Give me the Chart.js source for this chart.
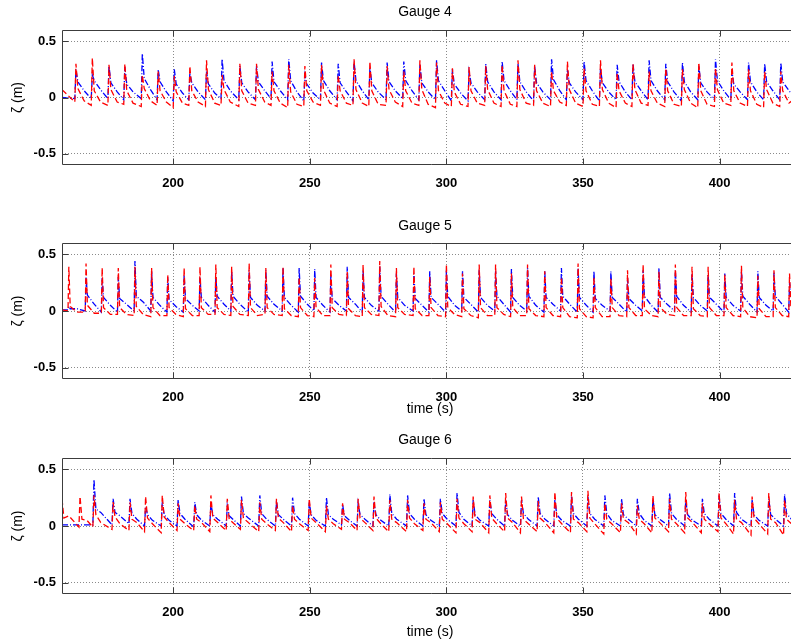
<!DOCTYPE html>
<html><head><meta charset="utf-8">
<script src="https://cdn.jsdelivr.net/npm/chart.js@4.4.1/dist/chart.umd.min.js"></script>
<style>
html,body{margin:0;padding:0;background:#fff;overflow:hidden;width:791px;height:644px;}
canvas{position:absolute;left:0;}
</style></head><body>
<canvas id="c4" width="800" height="200" style="top:0px"></canvas>
<canvas id="c5" width="800" height="214" style="top:214px"></canvas>
<canvas id="c6" width="800" height="216" style="top:428px"></canvas>
<script>
// ---------- tick labels ----------
const xTicks = [200, 250, 300, 350, 400];
const yTicks = [-0.5, 0, 0.5];

// ---------- Gauge 4 ----------
const g4Time = [159.3,
164.0,164.4,165.1,167.4, 170.0,170.4,171.1,173.4, 176.1,176.5,177.2,179.5, 181.9,182.3,183.0,185.3, 188.3,188.7,189.4,191.7,
194.1,194.5,195.2,197.5, 200.0,200.4,201.1,203.4, 205.7,206.1,206.8,209.1, 211.8,212.2,212.9,215.2, 217.5,217.9,218.6,220.9,
224.0,224.4,225.1,227.4, 230.1,230.5,231.2,233.5, 235.8,236.2,236.9,239.2, 241.9,242.3,243.0,245.3, 247.8,248.2,248.9,251.2,
253.9,254.3,255.0,257.3, 260.0,260.4,261.1,263.4, 265.8,266.2,266.9,269.2, 271.6,272.0,272.7,275.0, 277.9,278.3,279.0,281.3,
284.0,284.4,285.1,287.4, 289.9,290.3,291.0,293.3, 296.0,296.4,297.1,299.4, 301.8,302.2,302.9,305.2, 307.9,308.3,309.0,311.3,
314.0,314.4,315.1,317.4, 320.0,320.4,321.1,323.4, 325.8,326.2,326.9,329.2, 331.9,332.3,333.0,335.3, 338.1,338.5,339.2,341.5,
343.9,344.3,345.0,347.3, 350.0,350.4,351.1,353.4, 356.0,356.4,357.1,359.4, 362.1,362.5,363.2,365.5, 367.9,368.3,369.0,371.3,
373.8,374.2,374.9,377.2, 379.9,380.3,381.0,383.3, 386.0,386.4,387.1,389.4, 392.0,392.4,393.1,395.4, 398.1,398.5,399.2,401.5,
404.1,404.5,405.2,407.5, 410.2,410.6,411.3,413.6, 416.1,416.5,417.2,419.5, 422.0,422.4,423.1,425.4,
426.5];
const g4Blue = [0.00,
-0.01,0.25,0.14,0.06, -0.01,0.20,0.15,0.07, -0.01,0.28,0.13,0.05, -0.02,0.27,0.12,0.05, -0.01,0.39,0.17,0.07,
-0.02,0.25,0.14,0.05, -0.03,0.25,0.12,0.04, -0.02,0.22,0.13,0.05, -0.02,0.23,0.12,0.04, -0.01,0.34,0.15,0.06,
-0.02,0.28,0.13,0.05, -0.02,0.28,0.14,0.06, -0.01,0.32,0.14,0.06, -0.02,0.34,0.15,0.05, -0.03,0.20,0.12,0.04,
-0.02,0.31,0.15,0.06, -0.02,0.30,0.13,0.05, -0.03,0.32,0.15,0.06, -0.02,0.26,0.13,0.05, -0.02,0.31,0.14,0.06,
-0.01,0.32,0.15,0.06, -0.02,0.29,0.13,0.05, -0.02,0.33,0.15,0.06, -0.03,0.25,0.12,0.04, -0.03,0.23,0.13,0.05,
-0.02,0.30,0.14,0.05, -0.02,0.32,0.15,0.06, -0.02,0.30,0.14,0.05, -0.03,0.28,0.13,0.05, -0.02,0.34,0.16,0.06,
-0.02,0.25,0.13,0.05, -0.02,0.32,0.15,0.06, -0.03,0.26,0.13,0.05, -0.02,0.29,0.14,0.05, -0.02,0.30,0.14,0.06,
-0.02,0.33,0.15,0.06, -0.02,0.30,0.14,0.05, -0.03,0.31,0.14,0.05, -0.02,0.28,0.13,0.05, -0.02,0.34,0.15,0.06,
-0.02,0.23,0.12,0.05, -0.02,0.31,0.14,0.05, -0.02,0.30,0.14,0.06, -0.02,0.31,0.14,0.06,
0.03];
const g4Red = [0.07,
-0.04,0.30,0.08,-0.03, -0.07,0.35,0.06,-0.04, -0.07,0.29,0.07,-0.04, -0.06,0.30,0.06,-0.05, -0.08,0.20,0.08,-0.03,
-0.07,0.23,0.06,-0.04, -0.09,0.19,0.05,-0.05, -0.07,0.28,0.06,-0.04, -0.08,0.33,0.07,-0.05, -0.07,0.20,0.07,-0.04,
-0.08,0.30,0.06,-0.05, -0.07,0.30,0.07,-0.04, -0.07,0.23,0.06,-0.05, -0.09,0.29,0.05,-0.06, -0.08,0.28,0.06,-0.04,
-0.07,0.29,0.07,-0.05, -0.08,0.20,0.06,-0.05, -0.07,0.34,0.07,-0.05, -0.08,0.32,0.06,-0.06, -0.07,0.28,0.07,-0.04,
-0.08,0.23,0.06,-0.05, -0.07,0.33,0.07,-0.06, -0.09,0.31,0.06,-0.05, -0.08,0.26,0.05,-0.06, -0.08,0.27,0.06,-0.05,
-0.07,0.28,0.07,-0.05, -0.08,0.29,0.06,-0.06, -0.08,0.33,0.07,-0.05, -0.07,0.29,0.06,-0.05, -0.08,0.23,0.06,-0.04,
-0.07,0.32,0.07,-0.05, -0.08,0.26,0.06,-0.06, -0.08,0.33,0.07,-0.05, -0.09,0.22,0.06,-0.05, -0.08,0.30,0.07,-0.05,
-0.07,0.23,0.06,-0.05, -0.08,0.26,0.06,-0.06, -0.08,0.25,0.07,-0.05, -0.09,0.31,0.06,-0.06, -0.08,0.26,0.07,-0.05,
-0.07,0.31,0.06,-0.05, -0.08,0.25,0.06,-0.06, -0.09,0.23,0.07,-0.05, -0.08,0.23,0.06,-0.05,
-0.03];

// ---------- Gauge 5 ----------
const g5Time = [159.3,
161.5,161.8,162.3,164.8, 167.8,168.1,168.6,171.1, 173.7,174.0,174.5,177.0, 179.6,179.9,180.4,182.9, 185.7,186.0,186.5,189.0,
191.8,192.1,192.6,195.1, 197.7,198.0,198.5,201.0, 203.7,204.0,204.5,207.0, 209.5,209.8,210.3,212.8, 215.3,215.6,216.1,218.6,
221.1,221.4,221.9,224.4, 227.5,227.8,228.3,230.8, 233.6,233.9,234.4,236.9, 239.9,240.2,240.7,243.2, 245.8,246.1,246.6,249.1,
251.5,251.8,252.3,254.8, 257.4,257.7,258.2,260.7, 263.4,263.7,264.2,266.7, 269.2,269.5,270.0,272.5, 275.3,275.6,276.1,278.6,
281.4,281.7,282.2,284.7, 287.8,288.1,288.6,291.1, 293.6,293.9,294.4,296.9, 299.7,300.0,300.5,303.0, 305.6,305.9,306.4,308.9,
311.7,312.0,312.5,315.0, 317.7,318.0,318.5,321.0, 323.5,323.8,324.3,326.8, 329.4,329.7,330.2,332.7, 335.7,336.0,336.5,339.0,
341.8,342.1,342.6,345.1, 347.9,348.2,348.7,351.2, 353.7,354.0,354.5,357.0, 359.9,360.2,360.7,363.2, 366.0,366.3,366.8,369.3,
371.7,372.0,372.5,375.0, 377.5,377.8,378.3,380.8, 383.5,383.8,384.3,386.8, 389.6,389.9,390.4,392.9, 395.5,395.8,396.3,398.8,
401.6,401.9,402.4,404.9, 407.7,408.0,408.5,411.0, 413.7,414.0,414.5,417.0, 419.6,419.9,420.4,422.9, 425.3,425.6,426.1,428.6];
const g5Blue = [0.01,
0.01,0.04,0.02,0.02, 0.00,0.30,0.14,0.06, -0.01,0.29,0.12,0.05, -0.01,0.30,0.11,0.06, 0.00,0.44,0.13,0.08,
0.00,0.35,0.12,0.05, -0.01,0.30,0.10,0.04, -0.01,0.32,0.11,0.05, 0.00,0.30,0.12,0.05, -0.01,0.30,0.13,0.06,
0.00,0.35,0.13,0.06, -0.01,0.36,0.12,0.05, 0.00,0.36,0.13,0.06, 0.00,0.38,0.12,0.05, -0.01,0.38,0.13,0.06,
0.00,0.37,0.12,0.05, -0.01,0.32,0.11,0.05, 0.00,0.39,0.12,0.06, -0.01,0.36,0.12,0.05, 0.00,0.39,0.13,0.06,
-0.01,0.33,0.12,0.05, 0.00,0.33,0.11,0.05, -0.01,0.35,0.12,0.06, -0.01,0.36,0.13,0.05, 0.00,0.35,0.12,0.06,
-0.01,0.36,0.12,0.05, 0.00,0.35,0.13,0.06, -0.01,0.37,0.12,0.05, 0.00,0.38,0.13,0.05, -0.01,0.35,0.12,0.06,
0.00,0.38,0.13,0.06, -0.01,0.38,0.12,0.05, -0.01,0.35,0.11,0.05, 0.00,0.35,0.12,0.06, -0.01,0.29,0.11,0.05,
0.00,0.36,0.13,0.05, -0.01,0.38,0.12,0.06, 0.00,0.36,0.13,0.05, -0.01,0.33,0.12,0.05, 0.00,0.32,0.12,0.06,
-0.01,0.33,0.12,0.05, 0.00,0.35,0.13,0.06, -0.01,0.35,0.12,0.05, 0.00,0.34,0.13,0.06, -0.01,0.25,0.13,0.06];
const g5Red = [0.01,
0.00,0.39,0.04,-0.01, -0.01,0.42,0.05,-0.02, -0.02,0.38,0.03,-0.03, -0.03,0.38,0.03,-0.03, -0.04,0.39,0.04,-0.03,
-0.05,0.38,0.03,-0.04, -0.04,0.32,0.03,-0.03, -0.05,0.38,0.02,-0.04, -0.04,0.39,0.03,-0.03, -0.03,0.41,0.03,-0.03,
-0.04,0.39,0.04,-0.03, -0.04,0.42,0.03,-0.04, -0.03,0.38,0.03,-0.03, -0.04,0.39,0.02,-0.04, -0.05,0.30,0.03,-0.04,
-0.05,0.29,0.03,-0.04, -0.04,0.41,0.03,-0.03, -0.04,0.35,0.02,-0.04, -0.05,0.41,0.03,-0.03, -0.04,0.44,0.04,-0.04,
-0.05,0.38,0.03,-0.03, -0.04,0.39,0.02,-0.04, -0.04,0.30,0.03,-0.04, -0.05,0.41,0.03,-0.03, -0.05,0.33,0.02,-0.04,
-0.06,0.41,0.03,-0.04, -0.04,0.41,0.03,-0.03, -0.05,0.33,0.03,-0.04, -0.04,0.41,0.02,-0.04, -0.05,0.35,0.03,-0.04,
-0.05,0.30,0.03,-0.05, -0.06,0.42,0.02,-0.05, -0.06,0.30,0.03,-0.05, -0.05,0.29,0.03,-0.04, -0.05,0.36,0.03,-0.04,
-0.04,0.41,0.02,-0.04, -0.05,0.35,0.03,-0.03, -0.04,0.41,0.03,-0.04, -0.04,0.39,0.02,-0.04, -0.05,0.39,0.03,-0.04,
-0.04,0.32,0.03,-0.04, -0.05,0.40,0.03,-0.05, -0.06,0.31,0.02,-0.05, -0.05,0.36,0.03,-0.04, -0.05,0.33,0.03,-0.04];

// ---------- Gauge 6 ----------
const g6Time = [159.3,160.0,161.8,
165.5,165.9,166.6,168.4, 170.6,171.0,171.7,173.5,
177.6,178.0,178.7,180.5, 183.8,184.2,184.9,186.7, 189.5,189.9,190.6,192.4, 195.6,196.0,196.7,198.5, 201.4,201.8,202.5,204.3,
207.5,207.9,208.6,210.4, 213.4,213.8,214.5,216.3, 219.4,219.8,220.5,222.3, 224.6,225.0,225.7,227.5, 231.3,231.7,232.4,234.2,
237.4,237.8,238.5,240.3, 243.3,243.7,244.4,246.2, 249.4,249.8,250.5,252.3, 255.7,256.1,256.8,258.6, 261.6,262.0,262.7,264.5,
267.3,267.7,268.4,270.2, 273.1,273.5,274.2,276.0, 278.9,279.3,280.0,281.8, 285.4,285.8,286.5,288.3, 291.4,291.8,292.5,294.3,
297.4,297.8,298.5,300.3, 303.5,303.9,304.6,306.4, 309.4,309.8,310.5,312.3, 315.5,315.9,316.6,318.4, 321.3,321.7,322.4,324.2,
327.1,327.5,328.2,330.0, 333.2,333.6,334.3,336.1, 339.3,339.7,340.4,342.2, 345.4,345.8,346.5,348.3, 351.4,351.8,352.5,354.3,
357.6,358.0,358.7,360.5, 363.7,364.1,364.8,366.6, 369.5,369.9,370.6,372.4, 375.2,375.6,376.3,378.1, 381.3,381.7,382.4,384.2,
387.2,387.6,388.3,390.1, 393.3,393.7,394.4,396.2, 399.4,399.8,400.5,402.3, 405.1,405.5,406.2,408.0, 411.5,411.9,412.6,414.4,
417.6,418.0,418.7,420.5, 423.4,423.8,424.5,426.3];
const g6Blue = [0.01,0.01,0.01,
0.01,0.01,0.01,0.01, 0.01,0.41,0.15,0.12,
0.01,0.24,0.12,0.09, 0.02,0.24,0.11,0.06, 0.00,0.17,0.10,0.05, 0.00,0.21,0.10,0.05, 0.00,0.23,0.11,0.06,
-0.01,0.21,0.10,0.05, 0.00,0.20,0.10,0.06, 0.00,0.18,0.09,0.05, 0.00,0.26,0.11,0.07, 0.00,0.27,0.11,0.06,
0.00,0.22,0.10,0.06, 0.00,0.25,0.11,0.06, 0.00,0.21,0.10,0.05, 0.00,0.25,0.10,0.06, 0.01,0.19,0.09,0.05,
0.00,0.20,0.10,0.06, 0.00,0.21,0.10,0.05, 0.00,0.28,0.11,0.06, 0.00,0.27,0.11,0.06, 0.00,0.24,0.10,0.05,
0.00,0.24,0.11,0.06, 0.00,0.29,0.12,0.06, 0.00,0.23,0.10,0.05, 0.00,0.23,0.11,0.06, 0.00,0.23,0.10,0.05,
0.00,0.23,0.11,0.06, 0.00,0.26,0.11,0.06, 0.00,0.23,0.10,0.05, 0.00,0.26,0.11,0.06, 0.00,0.26,0.11,0.06,
0.00,0.27,0.11,0.05, 0.00,0.24,0.10,0.06, 0.00,0.24,0.11,0.05, 0.00,0.24,0.10,0.06, 0.00,0.29,0.11,0.06,
0.00,0.23,0.10,0.05, 0.00,0.24,0.11,0.06, 0.00,0.27,0.11,0.06, 0.00,0.29,0.12,0.06, 0.00,0.23,0.10,0.05,
0.00,0.24,0.10,0.06, 0.00,0.28,0.11,0.06];
const g6Red = [0.24,0.07,0.09,
-0.01,0.26,0.06,0.05, -0.01,0.27,0.10,0.03,
-0.03,0.21,0.08,0.02, -0.04,0.21,0.06,0.03, -0.05,0.26,0.07,0.02, -0.06,0.27,0.08,0.03, -0.04,0.20,0.06,0.02,
-0.04,0.18,0.06,0.03, -0.05,0.27,0.07,0.03, -0.04,0.24,0.06,0.02, -0.03,0.23,0.07,0.03, -0.05,0.21,0.06,0.02,
-0.04,0.24,0.07,0.03, -0.05,0.18,0.06,0.02, -0.04,0.24,0.07,0.03, -0.05,0.18,0.06,0.02, -0.03,0.20,0.06,0.03,
-0.04,0.24,0.07,0.03, -0.04,0.26,0.07,0.02, -0.05,0.23,0.06,0.03, -0.05,0.23,0.07,0.02, -0.04,0.20,0.06,0.03,
-0.05,0.21,0.06,0.02, -0.06,0.24,0.07,0.02, -0.05,0.26,0.06,0.03, -0.06,0.27,0.07,0.02, -0.05,0.29,0.07,0.03,
-0.06,0.26,0.06,0.02, -0.05,0.22,0.07,0.03, -0.06,0.30,0.07,0.02, -0.06,0.30,0.06,0.03, -0.05,0.31,0.07,0.02,
-0.07,0.20,0.06,0.02, -0.06,0.20,0.06,0.03, -0.07,0.18,0.06,0.02, -0.06,0.27,0.07,0.03, -0.05,0.24,0.06,0.02,
-0.06,0.30,0.07,0.03, -0.06,0.20,0.06,0.02, -0.05,0.29,0.07,0.02, -0.07,0.23,0.06,0.03, -0.08,0.26,0.07,0.02,
-0.07,0.29,0.06,0.03, -0.08,0.23,0.06,0.02];

// ---------- drawing ----------
const FONT = '"Liberation Sans", Arial, Helvetica, sans-serif';
function pts(t, v) { const n = Math.min(t.length, v.length); const o = []; for (let i = 0; i < n; i++) o.push({x: t[i], y: v[i]}); return o; }

const deco = {
  id: 'deco',
  afterDraw(chart, args, o) {
    const {ctx, chartArea: a, scales: {x, y}} = chart;
    ctx.save();
    ctx.strokeStyle = '#3c3c3c'; ctx.lineWidth = 1;
    ctx.beginPath();
    const L = a.left + 0.5, T = a.top + 0.5, B = a.bottom - 0.5, R = a.right + 10;
    ctx.moveTo(R, T); ctx.lineTo(L, T); ctx.lineTo(L, B); ctx.lineTo(R, B);
    x.ticks.forEach(t => {
      const px = Math.round(x.getPixelForValue(t.value)) + 0.5;
      ctx.moveTo(px, T); ctx.lineTo(px, T + 6);
      ctx.moveTo(px, B); ctx.lineTo(px, B - 6);
    });
    y.ticks.forEach(t => {
      const py = Math.round(y.getPixelForValue(t.value)) + 0.5;
      ctx.moveTo(L, py); ctx.lineTo(L + 6, py);
    });
    ctx.stroke();
    ctx.fillStyle = '#000';
    ctx.font = '14px ' + FONT;
    ctx.textAlign = 'center'; ctx.textBaseline = 'middle';
    ctx.fillText(o.title, o.titleX, o.titleY);
    if (o.xlabel) ctx.fillText(o.xlabel, o.xlabelX, o.xlabelY);
    ctx.translate(o.ylabelX, (a.top + a.bottom) / 2);
    ctx.rotate(-Math.PI / 2);
    ctx.fillText(o.ylabel, 0, 0);
    ctx.restore();
  }
};
Chart.register(deco);

function makeChart(id, t, blue, red, padTop, axisH, decoOpts) {
  return new Chart(document.getElementById(id), {
    type: 'line',
    data: {
      datasets: [
        { label: 'red', data: pts(t, red), borderColor: '#ff0000', borderWidth: 1.3, borderDash: [6, 3], pointRadius: 0, tension: 0, fill: false },
        { label: 'blue', data: pts(t, blue), borderColor: '#0000ff', borderWidth: 1.3, borderDash: [6, 2, 1, 2], pointRadius: 0, tension: 0, fill: false }
      ]
    },
    options: {
      responsive: false, animation: false, events: [],
      layout: { padding: { top: padTop, left: 0, right: 8, bottom: 0 } },
      plugins: { legend: { display: false }, tooltip: { enabled: false }, deco: decoOpts },
      scales: {
        x: {
          type: 'linear', min: 159.3, max: 426.5,
          afterBuildTicks: s => { s.ticks = xTicks.map(v => ({ value: v })); },
          afterFit: s => { s.height = axisH; },
          grid: { color: '#8a8a8a', lineWidth: 1, drawTicks: false },
          border: { display: false, dash: [1, 2] },
          ticks: { padding: 11, color: '#000', font: { family: FONT, size: 13, weight: 'bold' }, callback: v => String(v), maxRotation: 0 }
        },
        y: {
          type: 'linear', min: -0.6, max: 0.6,
          afterBuildTicks: s => { s.ticks = yTicks.map(v => ({ value: v })); },
          afterFit: s => { s.width = 62; },
          grid: { color: '#8a8a8a', lineWidth: 1, drawTicks: false },
          border: { display: false, dash: [1, 2] },
          ticks: { padding: 6, color: '#000', font: { family: FONT, size: 13, weight: 'bold' }, callback: v => String(v) }
        }
      }
    }
  });
}

makeChart('c4', g4Time, g4Blue, g4Red, 30, 35,
  { title: 'Gauge 4', titleX: 425, titleY: 12, xlabel: null, ylabel: 'ζ (m)', ylabelX: 18 });
makeChart('c5', g5Time, g5Blue, g5Red, 29, 49,
  { title: 'Gauge 5', titleX: 425, titleY: 12, xlabel: 'time (s)', xlabelX: 430, xlabelY: 195, ylabel: 'ζ (m)', ylabelX: 18 });
makeChart('c6', g6Time, g6Blue, g6Red, 30, 50,
  { title: 'Gauge 6', titleX: 425, titleY: 12, xlabel: 'time (s)', xlabelX: 430, xlabelY: 204.5, ylabel: 'ζ (m)', ylabelX: 18 });
</script>
</body></html>
